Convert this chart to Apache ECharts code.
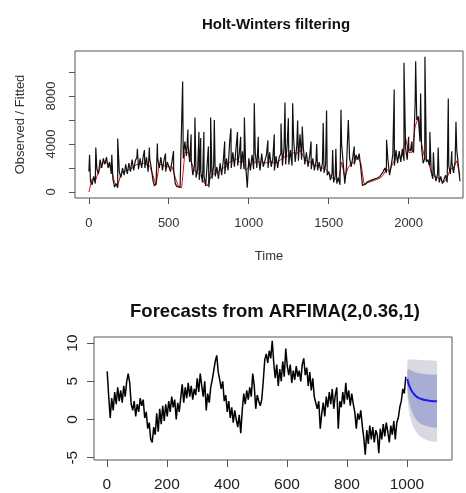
<!DOCTYPE html>
<html>
<head>
<meta charset="UTF-8">
<title>Holt-Winters / ARFIMA</title>
<script src="https://cdn.jsdelivr.net/npm/echarts@6/dist/echarts.min.js"></script>
<style>
  html, body { margin: 0; padding: 0; background: #fff; }
  #chart { width: 466px; height: 493px; }
</style>
</head>
<body>
<div id="chart"></div>
<script>
// ---- Holt-Winters panel: observed every 10 steps from t=1, plus single-point spikes
var hwStep = 10;
var hwObserved = [
  1700, 900, 600, 1300, 700, 1900, 1500, 2700, 2000, 2800,
  2300, 2900, 2000, 2500, 1500, 1100, 400, 700, 350, 1700,
  1200, 2000, 1400, 2300, 1500, 2400, 1700, 2700, 1800, 2600,
  2900, 1900, 2800, 2000, 3000, 2000, 2900, 1700, 2800, 2000,
  1000, 500, 700, 2800, 2000, 2900, 1800, 2700, 1700, 2500,
  2600, 1700, 2600, 1800, 700, 450, 300, 400, 300, 2800,
  4200, 3000, 3900, 2500, 2600, 1400, 2200, 1200, 1900, 1000,
  1700, 800, 1300, 500, 600, 400, 1800, 1100, 2200, 1300,
  2100, 1100, 2400, 1400, 2600, 1500, 2800, 1800, 4200, 2000,
  3300, 2100, 3700, 2200, 3200, 1900, 3400, 1900, 2300, 350,
  2800, 1800, 3100, 1900, 3300, 2000, 3000, 1800, 3200, 2100,
  2000, 3100, 2000, 3300, 2100, 2800, 1800, 3000, 2000, 2900,
  3200, 2200, 3700, 2300, 4000, 2300, 3500, 2200, 4400, 2500,
  3900, 2600, 4800, 2700, 3800, 2300, 3300, 2100, 3000, 1900,
  2800, 1800, 2600, 1800, 2500, 1700, 2400, 1600, 2300, 1400,
  1700, 1000, 1500, 800, 1300, 700, 1200, 600, 4000, 2400,
  700, 2000, 2000, 2800, 2100, 2900, 2300, 3100, 2700, 3200,
  2000, 550, 700, 650, 850, 800, 950, 900, 1050, 1000,
  1150, 1100, 1300, 1350, 1700, 2000, 1600, 2600, 1400, 2200,
  3100, 2200, 3500, 2400, 3400, 2500, 3600, 2600, 3700, 2700,
  3600, 3400, 3500, 3300, 7600, 6000, 6300, 4200, 3700, 2400,
  2800, 2500, 2700, 2200, 1700, 1100, 1600, 900, 1500, 800,
  1300, 700, 600, 1400, 800, 2200, 1500, 2400, 1600, 2600,
  3500, 2200, 900
];
var hwSpikes = [
  [5, 3100], [44, 3700], [144, 3100], [181, 4450], [304, 3600], [348, 3500],
  [379, 3700], [429, 4050], [480, 3200], [530, 3400], [587, 9200], [620, 5200],
  [640, 4800], [664, 6200], [689, 5000], [700, 4500], [720, 5000], [748, 3800],
  [762, 6200], [785, 6000], [850, 4200], [889, 5300], [930, 5000], [950, 4600],
  [973, 6200], [1035, 7400], [1060, 4600], [1120, 4300], [1160, 4800],
  [1202, 5700], [1227, 7450], [1248, 6150], [1275, 7400], [1306, 5950],
  [1335, 5450], [1390, 4200], [1425, 4000], [1466, 5750], [1487, 6800],
  [1525, 3500], [1545, 3600], [1577, 6850], [1623, 6000], [1660, 3800],
  [1862, 4350], [1910, 8550], [1971, 10780], [2000, 4600], [2020, 4200],
  [2044, 10900], [2075, 8200], [2102, 11280], [2133, 5000], [2155, 3300],
  [2185, 3700], [2248, 7800], [2270, 3400], [2296, 5850]
];
var hwFittedStep = 20;
var hwFitted = [
  0, 1100, 900, 1700, 2300, 2500, 2400, 1900, 800, 500,
  1500, 1700, 1800, 1900, 2100, 2300, 2300, 2400, 2300, 2200,
  1400, 600, 2300, 2300, 2100, 2100, 2100, 1200, 450, 350,
  3300, 3300, 2500, 1800, 1600, 1300, 800, 500, 1200, 1500,
  1600, 1800, 2000, 2100, 2500, 2600, 2800, 2500, 2600, 1800,
  2100, 2400, 2500, 2500, 2500, 2400, 2500, 2500, 2400, 2500,
  2700, 2900, 3000, 3000, 3300, 3200, 3500, 3000, 2600, 2500,
  2300, 2200, 2100, 2000, 1900, 1600, 1200, 1100, 900, 2500,
  1200, 2000, 2400, 2500, 2900, 2400, 700, 750, 850, 950,
  1050, 1150, 1400, 1900, 1700, 2400, 2800, 2900, 3000, 4500,
  3300, 3300, 5500, 6200, 4000, 2800, 2600, 1700, 1300, 1200,
  1000, 800, 1200, 1900, 2000, 2600, 1400
];
var hwXTicks = [0, 500, 1000, 1500, 2000];
var hwYTicks = [0, 2000, 4000, 6000, 8000, 10000];
var hwYLabels = [0, 4000, 8000];

// ---- ARFIMA panel: observed every 5 steps from t=1, forecasts at horizons h
var arStep = 5;
var arObserved = [
  6.3, 3.0, 0.2, 2.8, 1.2, 3.6, 2.0, 4.2, 2.4, 3.8,
  2.2, 4.4, 3.0, 5.0, 6.0, 4.8, 2.0, 1.2, 2.4, 0.4,
  2.0, 1.0, 2.8, 1.8, 2.6, 0.2, 1.0, -1.2, -0.4, -2.6,
  -3.0, -1.0, -2.0, 0.8, -1.6, 1.4, -0.6, 1.8, -0.2, 2.0,
  0.4, 2.4, 1.0, 3.0, 1.6, 2.6, 0.0, 2.2, 1.0, 2.8,
  4.6, 2.2, 4.2, 2.8, 4.8, 3.0, 4.4, 2.6, 4.0, 3.2,
  5.4, 3.6, 6.0, 4.4, 3.0, 5.0, 1.2, 3.4, 2.2, 4.2,
  5.2, 6.4, 7.6, 8.4, 6.2, 5.2, 4.0, 5.0, 2.4, 3.2,
  1.0, 2.4, 0.2, 1.6, -0.4, 1.2, 0.0, -1.0, 0.6, -1.8,
  1.2, 3.4, 2.0, 3.8, 2.6, 4.2, 3.0, 6.0, 4.4, 1.4,
  3.2, 2.4, 1.8, 2.6, 5.0, 7.8, 8.6, 7.4, 9.0, 8.0,
  10.3, 7.4, 5.4, 7.2, 4.4, 6.6, 5.0, 7.6, 5.6, 9.3,
  7.0, 5.8, 7.2, 4.8, 6.4, 5.2, 7.0, 5.6, 6.4, 5.0,
  7.2, 8.0, 5.8, 6.8, 4.4, 6.2, 3.8, 5.4, 3.0, 2.2,
  1.4, 2.4, -1.2, 0.8, 2.2, 0.4, 3.0, 1.6, 3.6, 2.0,
  4.0, 1.4, 3.2, 4.2, -1.2, 2.4, 1.6, 3.6, 2.0, 4.8,
  2.6, 3.8, 1.8, 3.4, 2.0, 1.0, -1.2, 0.8, 0.0, 1.2,
  -0.8, -2.4, -4.6, -1.4, -3.2, -0.8, -2.6, -1.0, -3.0, -1.4,
  -2.0, -4.4, -1.2, -2.6, -0.6, -2.2, -0.4, -1.6, -3.0, -0.8,
  -2.0, -0.2, -2.6, -0.4, 0.2, 1.6, 2.4, 4.0, 3.4, 5.6
];
var fcStart = 1000;
var fcH    = [1, 5, 10, 15, 20, 30, 40, 50, 60, 70, 80, 90, 100];
var fcMean = [5.3, 4.7, 4.2, 3.8, 3.5, 3.05, 2.8, 2.65, 2.55, 2.48, 2.43, 2.4, 2.38];
var fcHi95 = [7.6, 7.8, 7.85, 7.85, 7.85, 7.85, 7.8, 7.8, 7.75, 7.75, 7.75, 7.7, 7.7];
var fcLo95 = [3.0, 1.5, 0.5, -0.3, -0.9, -1.6, -2.1, -2.4, -2.6, -2.75, -2.85, -2.9, -2.95];
var fcHi80 = [6.4, 6.6, 6.5, 6.4, 6.3, 6.15, 6.05, 6.0, 5.95, 5.9, 5.9, 5.85, 5.85];
var fcLo80 = [4.2, 2.8, 1.9, 1.2, 0.7, 0.0, -0.4, -0.65, -0.8, -0.9, -1.0, -1.05, -1.1];
var arXTicks = [0, 200, 400, 600, 800, 1000];
var arYTicks = [-5, 0, 5, 10];

var font = 'Liberation Sans, Arial, Helvetica, sans-serif';

var obsPts = hwObserved.map(function (v, i) { return [1 + i * hwStep, v]; })
  .concat(hwSpikes)
  .sort(function (a, b) { return a[0] - b[0]; });
var fitPts = hwFitted.map(function (v, i) { return [1 + i * hwFittedStep, v]; });
var arPts = arObserved.map(function (v, i) { return [1 + i * arStep, v]; });
var fcPts = fcMean.map(function (v, i) { return [fcStart + fcH[i], v]; });

// prediction band drawn as a polygon through the axis scales
function bandSeries(lo, hi, color, z) {
  return {
    type: 'custom', xAxisIndex: 1, yAxisIndex: 1, silent: true, z: z,
    data: [0],
    renderItem: function (params, api) {
      var pts = [];
      fcH.forEach(function (h, i) { pts.push(api.coord([fcStart + h, hi[i]])); });
      for (var i = fcH.length - 1; i >= 0; i--) pts.push(api.coord([fcStart + fcH[i], lo[i]]));
      return { type: 'polygon', shape: { points: pts }, style: { fill: color } };
    }
  };
}

function axis(opt) {
  return Object.assign({
    type: 'value',
    axisLine: { show: false, onZero: false },
    splitLine: { show: false }
  }, opt);
}
var plain = function (v) { return String(v); };

var chart = echarts.init(document.getElementById('chart'));

chart.setOption({
  animation: false,
  title: [
    { text: 'Holt-Winters filtering', left: 271, top: 12, textAlign: 'center',
      textStyle: { fontFamily: font, fontSize: 15, fontWeight: 'bold', color: '#111' } },
    { text: 'Forecasts from ARFIMA(2,0.36,1)', left: 270, top: 297, textAlign: 'center',
      textStyle: { fontFamily: font, fontSize: 18.5, fontWeight: 'bold', color: '#111' } }
  ],
  grid: [
    { left: 75, top: 51, width: 388, height: 147, show: true, borderColor: '#555', borderWidth: 1 },
    { left: 94, top: 337, width: 358, height: 130, show: true, borderColor: '#555', borderWidth: 1 }
  ],
  xAxis: [
    axis({ gridIndex: 0, min: -86, max: 2340,
      name: 'Time', nameLocation: 'middle', nameGap: 52,
      nameTextStyle: { fontFamily: font, fontSize: 13, color: '#333' },
      axisTick: { length: 6, lineStyle: { color: '#555' }, customValues: hwXTicks },
      axisLabel: { color: '#333', fontFamily: font, fontSize: 13, margin: 19,
        customValues: hwXTicks, formatter: plain } }),
    axis({ gridIndex: 1, min: -43, max: 1150,
      axisTick: { length: 7, lineStyle: { color: '#555' }, customValues: arXTicks },
      axisLabel: { color: '#222', fontFamily: font, fontSize: 15.5, margin: 17,
        customValues: arXTicks, formatter: plain } })
  ],
  yAxis: [
    axis({ gridIndex: 0, min: -500, max: 11750,
      name: 'Observed / Fitted', nameLocation: 'middle', nameGap: 48, nameRotate: 90,
      nameTextStyle: { fontFamily: font, fontSize: 13, color: '#333' },
      axisTick: { length: 6, lineStyle: { color: '#555' }, customValues: hwYTicks },
      axisLabel: { color: '#333', fontFamily: font, fontSize: 13, rotate: 90, margin: 17,
        customValues: hwYLabels, formatter: plain } }),
    axis({ gridIndex: 1, min: -5.3, max: 10.8,
      axisTick: { length: 7, lineStyle: { color: '#555' }, customValues: arYTicks },
      axisLabel: { color: '#222', fontFamily: font, fontSize: 15.5, rotate: 90, margin: 13,
        customValues: arYTicks, formatter: plain } })
  ],
  series: [
    { name: 'Fitted', type: 'line', xAxisIndex: 0, yAxisIndex: 0, data: fitPts,
      symbol: 'none', lineStyle: { color: '#d11', width: 1 }, z: 1 },
    { name: 'Observed', type: 'line', xAxisIndex: 0, yAxisIndex: 0, data: obsPts,
      symbol: 'none', lineStyle: { color: '#111', width: 1.2 }, z: 2 },

    bandSeries(fcLo95, fcHi95, '#d9d9e1', 1),
    bandSeries(fcLo80, fcHi80, '#a9add3', 2),
    { name: 'Series', type: 'line', xAxisIndex: 1, yAxisIndex: 1, data: arPts,
      symbol: 'none', lineStyle: { color: '#000', width: 1.5 }, z: 3 },
    { name: 'Forecast', type: 'line', xAxisIndex: 1, yAxisIndex: 1, data: fcPts,
      symbol: 'none', smooth: 0.3, lineStyle: { color: '#1a1aee', width: 2 }, z: 4 }
  ]
});
</script>
</body>
</html>
